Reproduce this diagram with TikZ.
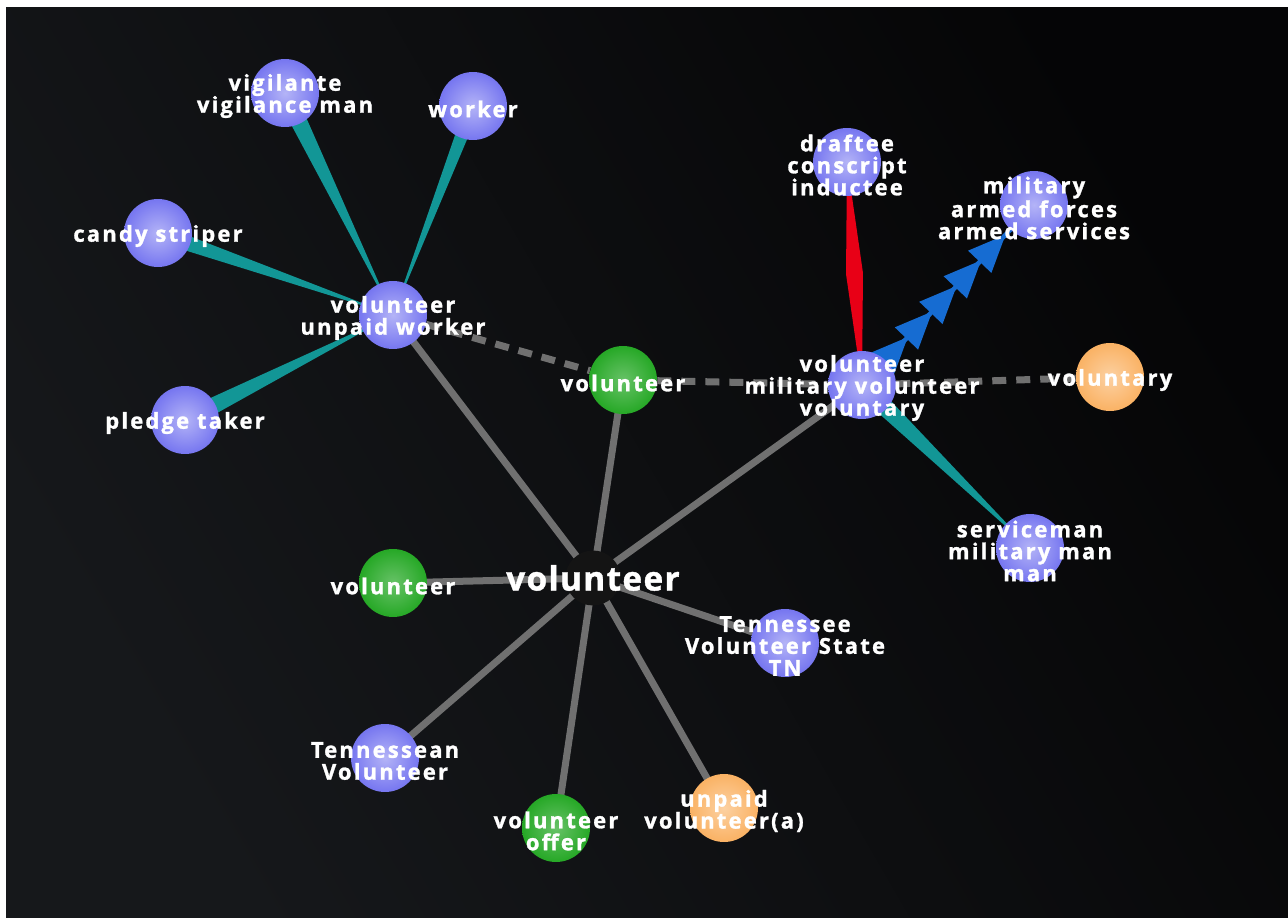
\documentclass[tikz,border=0pt]{standalone}
\usepackage{fontspec}
\newfontfamily\lblfont{Open Sans}[LetterSpace=10, FakeBold=1.3]
\newfontfamily\hubfont{Open Sans}[LetterSpace=4, FakeBold=1.2]
\usetikzlibrary{calc,arrows.meta,decorations.markings}
\definecolor{nodeblue}{RGB}{118,118,240}
\definecolor{nodegreen}{RGB}{38,168,38}
\definecolor{nodeorange}{RGB}{250,178,100}
\definecolor{linkgrey}{RGB}{112,112,112}
\definecolor{wedgeteal}{RGB}{18,150,150}
\definecolor{kitered}{RGB}{232,0,22}
\definecolor{arrowblue}{RGB}{22,108,210}
\definecolor{skylight}{RGB}{22,24,27}
\definecolor{skydark}{RGB}{5,5,6}
\pgfdeclarelayer{bg}
\pgfdeclarelayer{edges}
\pgfsetlayers{bg,edges,main}
% tapered link: wide at #1, pointed at #2
\newcommand\wedgelink[3]{\fill[wedge] ($(#1)!#3!90:(#2)$) -- ($(#1)!#3!-90:(#2)$) -- (#2.center) -- cycle;}
\begin{document}
\begin{tikzpicture}[x=0.02cm, y=-0.02cm,
  ball/.style={circle, minimum size=1.36cm, inner sep=0pt},
  bluenode/.style={ball, inner color=nodeblue!55!white, outer color=nodeblue},
  greennode/.style={ball, inner color=nodegreen!70!white, outer color=nodegreen},
  orangenode/.style={ball, inner color=nodeorange!60!white, outer color=nodeorange},
  hubdot/.style={circle, minimum size=1.1cm, inner sep=0pt, fill=black!92},
  txt/.style={text=white, align=center, inner sep=0pt, yshift=-0.06cm,
    font=\lblfont\bfseries\fontsize{12.5}{12.5}\selectfont},
  bigtxt/.style={text=white, inner sep=0pt, font=\hubfont\bfseries\fontsize{19}{19}\selectfont},
  link/.style={draw=linkgrey, line width=0.14cm},
  dashlink/.style={link, dash pattern=on 0.28cm off 0.2cm},
  wedge/.style={fill=wedgeteal},
  kite/.style={fill=kitered},
  arrowlink/.style={draw=arrowblue, line width=0.09cm}
]
\useasboundingbox (0,0) rectangle (1288,918);
\begin{pgfonlayer}{bg}
\fill[white] (0,0) rectangle (1288,918);
\shade[left color=skylight, right color=skydark, shading angle=120] (6,8) rectangle (1288,918);
\end{pgfonlayer}

% nodes
\node[bluenode, label={[txt]center:vigilante\\vigilance man}] (vigilante) at (285,93) {};
\node[bluenode, label={[txt]center:worker}] (worker) at (473,106) {};
\node[bluenode, label={[txt]center:candy striper}] (candy) at (158,233) {};
\node[bluenode, label={[txt]center:volunteer\\unpaid worker}] (unpaidworker) at (393,315) {};
\node[bluenode, label={[txt]center:pledge taker}] (pledge) at (185,420) {};
\node[greennode, label={[txt]center:volunteer}] (greentop) at (623,380) {};
\node[bluenode, label={[txt]center:volunteer\\military volunteer\\voluntary}] (milvol) at (862,385) {};
\node[bluenode, label={[txt]center:draftee\\conscript\\inductee}] (draftee) at (847,162) {};
\node[bluenode, label={[txt]center:military\\armed forces\\armed services}] (military) at (1034,205) {};
\node[orangenode, label={[txt]center:voluntary}] (voluntary) at (1110,377) {};
\node[bluenode, label={[txt]center:serviceman\\military man\\man}] (serviceman) at (1030,548) {};
\node[hubdot, label={[bigtxt]center:volunteer}] (hub) at (593,578) {};
\node[greennode, label={[txt]center:volunteer}] (greenleft) at (393,583) {};
\node[bluenode, label={[txt]center:Tennessee\\Volunteer State\\TN}] (tennessee) at (785,643) {};
\node[bluenode, label={[txt]center:Tennessean\\Volunteer}] (tennessean) at (385,758) {};
\node[greennode, label={[txt]center:volunteer\\offer}] (offer) at (556,828) {};
\node[orangenode, label={[txt]center:unpaid\\volunteer(a)}] (unpaid) at (724,808) {};

% links
\begin{pgfonlayer}{edges}
\foreach \n in {unpaidworker,greentop,milvol,greenleft,tennessee,tennessean,offer,unpaid}
  \draw[link] (hub.center) -- (\n.center);
\draw[dashlink] (unpaidworker) -- (greentop);
\draw[dashlink] (greentop) -- (milvol);
\draw[dashlink] (milvol) -- (voluntary);
\wedgelink{vigilante}{unpaidworker}{0.19cm}
\wedgelink{worker}{unpaidworker}{0.15cm}
\wedgelink{candy}{unpaidworker}{0.17cm}
\wedgelink{pledge}{unpaidworker}{0.19cm}
\wedgelink{milvol}{serviceman}{0.2cm}
\fill[kite] (draftee.center) -- ($(draftee)!0.5!(milvol)!0.17cm!90:(milvol)$) -- (milvol.center)
  -- ($(draftee)!0.5!(milvol)!0.17cm!-90:(milvol)$) -- cycle;
\draw[arrowlink, postaction={decorate}, decoration={markings,
  mark=between positions 0.267 and 0.84 step 0.142 with {\arrow[arrowblue]{Triangle[length=0.75cm,width=0.62cm]}}}]
  (milvol.center) -- (military.center);
\end{pgfonlayer}
\end{tikzpicture}
\end{document}
